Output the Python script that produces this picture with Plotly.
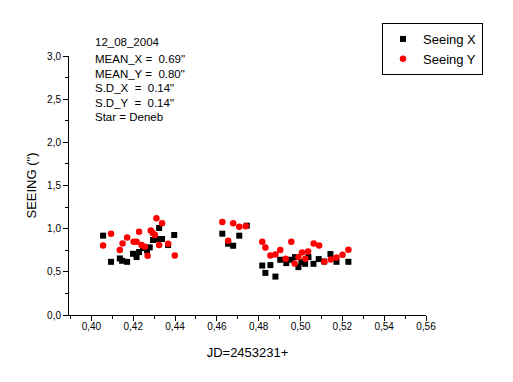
import plotly.graph_objects as go

# Seeing X (black squares)
jd_x = [0.4056, 0.4094, 0.4136, 0.4147, 0.4171, 0.4199, 0.4216, 0.4228, 0.4247, 0.4266,
        0.4279, 0.4295, 0.4311, 0.4324, 0.4338, 0.4367, 0.4396,
        0.4626, 0.4654, 0.4678, 0.4707, 0.4743,
        0.4817, 0.4832, 0.4856, 0.4880, 0.4903, 0.4932, 0.4955, 0.4974, 0.4990, 0.5004,
        0.5022, 0.5038, 0.5062, 0.5087, 0.5113, 0.5143, 0.5172, 0.5229]
seeing_x = [0.919, 0.616, 0.655, 0.628, 0.616, 0.709, 0.671, 0.729, 0.776, 0.748,
            0.783, 0.869, 0.880, 1.008, 0.880, 0.810, 0.927,
            0.942, 0.826, 0.802, 0.919, 1.035,
            0.573, 0.488, 0.578, 0.445, 0.640, 0.601, 0.640, 0.671, 0.555, 0.613,
            0.593, 0.671, 0.593, 0.648, 0.620, 0.706, 0.616, 0.616]

# Seeing Y (red dots)
jd_y = [0.4056, 0.4094, 0.4136, 0.4149, 0.4171, 0.4202, 0.4216, 0.4228, 0.4240, 0.4256,
        0.4269, 0.4284, 0.4293, 0.4304, 0.4311, 0.4324, 0.4338, 0.4367, 0.4399,
        0.4626, 0.4654, 0.4678, 0.4707, 0.4738,
        0.4817, 0.4832, 0.4856, 0.4880, 0.4903, 0.4929, 0.4956, 0.4972, 0.4990, 0.5007,
        0.5023, 0.5036, 0.5063, 0.5089, 0.5114, 0.5145, 0.5172, 0.5201, 0.5229]
seeing_y = [0.806, 0.942, 0.752, 0.829, 0.899, 0.849, 0.849, 0.965, 0.810, 0.791,
            0.686, 0.980, 0.950, 0.927, 1.120, 0.810, 1.062, 0.826, 0.690,
            1.078, 0.860, 1.062, 1.023, 1.027,
            0.849, 0.783, 0.690, 0.701, 0.752, 0.651, 0.849, 0.597, 0.671, 0.724,
            0.651, 0.736, 0.829, 0.806, 0.616, 0.643, 0.666, 0.698, 0.756]

info_lines = ["12_08_2004", "MEAN_X =  0.69\"", "MEAN_Y =  0.80\"",
              "S.D_X  =  0.14\"", "S.D_Y  =  0.14\"", "Star = Deneb"]
info_ypix = [42, 59, 74, 88, 103, 117]

W, H = 513, 382
L, R, T, B = 69, 87, 56, 67
pw, ph = W - L - R, H - T - B

FONT = "Arial, Liberation Sans, sans-serif"

fig = go.Figure()
fig.add_trace(go.Scatter(x=jd_x, y=seeing_x, mode="markers", name="Seeing X",
                         marker=dict(symbol="square", size=6, color="black")))
fig.add_trace(go.Scatter(x=jd_y, y=seeing_y, mode="markers", name="Seeing Y",
                         marker=dict(symbol="circle", size=6.5, color="#ff0000")))

for txt, yp in zip(info_lines, info_ypix):
    fig.add_annotation(text=txt, xref="paper", yref="paper",
                       x=(93 - L) / pw, y=(H - B - yp) / ph,
                       xanchor="left", yanchor="middle", showarrow=False,
                       font=dict(size=11.5, color="black", family=FONT))

fig.update_layout(
    width=W, height=H,
    margin=dict(l=L, r=R, t=T, b=B),
    paper_bgcolor="white", plot_bgcolor="white",
    separators=",.",
    font=dict(family=FONT, color="black"),
    showlegend=True,
    legend=dict(x=(382 - L) / pw, y=(H - B - 23) / ph, xanchor="left", yanchor="top",
                bordercolor="black", borderwidth=1, bgcolor="white",
                font=dict(size=13, family=FONT), tracegroupgap=0),
    xaxis=dict(range=[0.3893, 0.56], tick0=0.40, dtick=0.02, tickformat=".2f",
               showline=True, linecolor="black", linewidth=1, ticks="outside",
               ticklen=5, tickcolor="black", showgrid=False, zeroline=False,
               tickfont=dict(size=10), ticklabelstandoff=-3,
               minor=dict(tick0=0.39, dtick=0.01, ticks="outside", ticklen=3, tickcolor="black"),
               title=dict(text="JD=2453231+", font=dict(size=13), standoff=16)),
    yaxis=dict(range=[0, 3.0], tick0=0, dtick=0.5, tickformat=".1f",
               showline=True, linecolor="black", linewidth=1, ticks="outside",
               ticklen=5, tickcolor="black", showgrid=False, zeroline=False,
               tickfont=dict(size=10),
               minor=dict(tick0=0, dtick=0.25, ticks="outside", ticklen=3, tickcolor="black"),
               title=dict(text="SEEING (\")", font=dict(size=13), standoff=7)),
)

fig.write_html("out.html", config={"displayModeBar": False},
               post_script="document.body.style.margin='0';document.body.style.overflow='hidden';")
